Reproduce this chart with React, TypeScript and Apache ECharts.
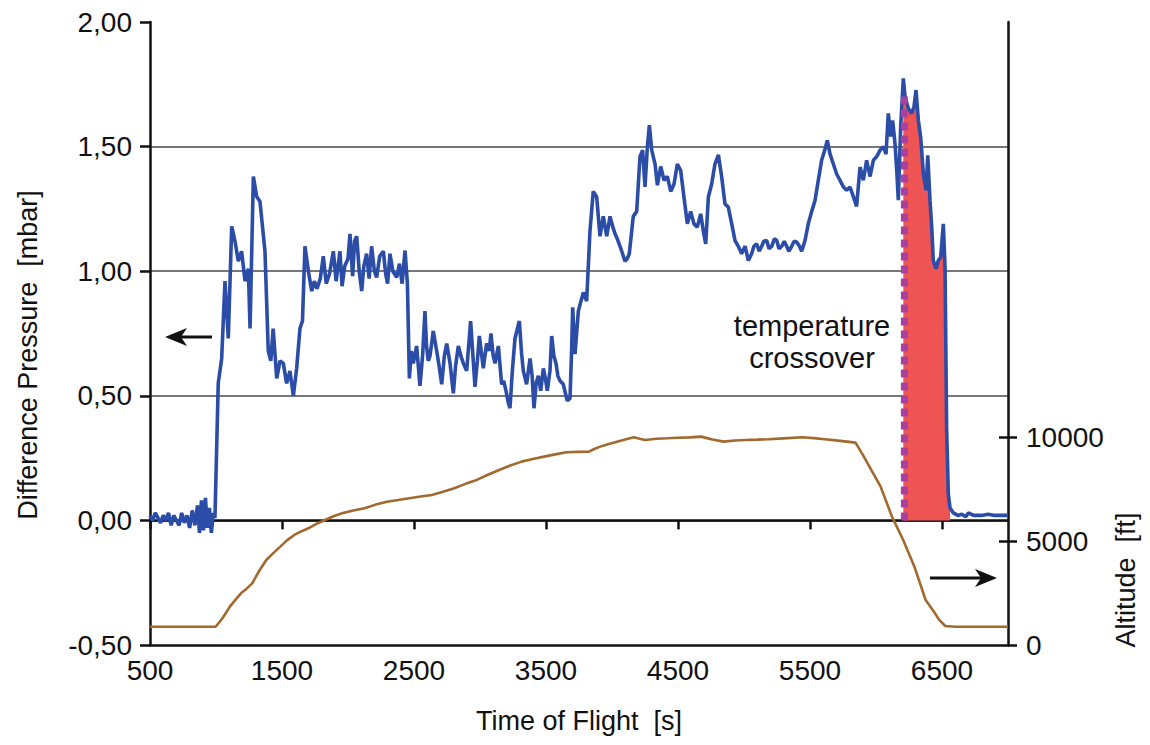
import React, { useEffect, useRef } from "react";
import * as echarts from "echarts";

// Difference pressure [mbar] against time of flight [s]
const flightTime = [
  500, 520, 540, 560, 580, 600, 620, 640, 660, 680, 700, 720, 740, 760, 780, 800, 820, 840, 860, 875,
  890, 905, 920, 935, 950, 965, 980, 992, 1017, 1043, 1068, 1093, 1119, 1144, 1169, 1194, 1220, 1245,
  1258, 1283, 1308, 1333, 1371, 1396, 1415, 1433, 1460, 1485, 1510, 1535, 1560, 1586, 1611, 1636, 1655,
  1674, 1700, 1725, 1745, 1765, 1790, 1813, 1835, 1860, 1889, 1910, 1939, 1955, 1975, 2000, 2015, 2035,
  2050, 2066, 2085, 2104, 2120, 2141, 2160, 2179, 2200, 2217, 2240, 2268, 2285, 2300, 2318, 2340, 2369,
  2390, 2410, 2432, 2450, 2465, 2480, 2495, 2520, 2545, 2565, 2583, 2595, 2608, 2621, 2646, 2672, 2690,
  2710, 2730, 2748, 2773, 2798, 2815, 2836, 2855, 2874, 2899, 2929, 2962, 2980, 2995, 3025, 3050, 3070,
  3083, 3100, 3114, 3139, 3164, 3180, 3197, 3215, 3227, 3245, 3265, 3298, 3315, 3328, 3353, 3379, 3395,
  3409, 3425, 3442, 3460, 3480, 3495, 3510, 3530, 3543, 3560, 3576, 3590, 3606, 3631, 3661, 3682, 3695,
  3702, 3720, 3745, 3765, 3783, 3808, 3833, 3858, 3884, 3909, 3934, 3960, 3985, 4005, 4023, 4040, 4061,
  4080, 4098, 4115, 4131, 4161, 4187, 4212, 4232, 4250, 4268, 4283, 4301, 4326, 4344, 4369, 4394, 4419,
  4445, 4470, 4495, 4520, 4545, 4571, 4596, 4621, 4646, 4672, 4692, 4710, 4730, 4755, 4780, 4806, 4831,
  4856, 4881, 4907, 4932, 4957, 4982, 5008, 5033, 5058, 5075, 5096, 5115, 5134, 5150, 5172, 5190, 5210,
  5230, 5248, 5265, 5286, 5305, 5323, 5340, 5361, 5380, 5399, 5420, 5437, 5462, 5487, 5513, 5538, 5563,
  5588, 5614, 5631, 5652, 5677, 5702, 5727, 5753, 5778, 5803, 5828, 5853, 5879, 5904, 5929, 5955, 5980,
  6005, 6030, 6056, 6076, 6093, 6111, 6126, 6144, 6157, 6169, 6187, 6207, 6220, 6245, 6270, 6288, 6303,
  6321, 6338, 6359, 6379, 6392, 6409, 6422, 6434, 6455, 6472, 6490, 6510, 6523, 6535, 6548, 6561, 6586,
  6620, 6650, 6680, 6700, 6740, 6800, 6850, 6900, 6950, 7000,
];
const diffPressure = [
  0.02, 0.0, 0.03, 0.01, -0.01, 0.02, 0.0, 0.03, -0.02, 0.02, 0.0, -0.02, 0.03, -0.01, 0.02, -0.03, 0.04, -0.02, 0.06, -0.05,
  0.08, -0.04, 0.09, -0.03, 0.05, -0.05, 0.03, 0.01, 0.55, 0.65, 0.96, 0.73, 1.18, 1.12, 1.04, 1.08, 0.96, 1.01,
  0.77, 1.38, 1.3, 1.28, 1.08, 0.68, 0.64, 0.77, 0.57, 0.64, 0.63, 0.55, 0.6, 0.5, 0.61, 0.77, 0.8,
  1.1, 1.0, 0.92, 0.96, 0.93, 0.97, 1.06, 0.95, 0.99, 1.08, 0.96, 1.08, 0.94, 1.02, 1.05, 1.15, 0.98,
  1.12, 1.14, 1.0, 0.92, 1.02, 1.07, 0.97, 1.1, 1.0, 0.975, 1.06, 1.08, 0.99, 0.95, 1.07, 1.0, 0.975,
  1.03, 0.95, 1.083, 0.95, 0.57, 0.68, 0.63, 0.7, 0.54, 0.66, 0.84, 0.7, 0.64, 0.66, 0.76, 0.68, 0.62,
  0.546, 0.66, 0.71, 0.63, 0.51, 0.62, 0.7, 0.66, 0.63, 0.6, 0.8, 0.536, 0.64, 0.74, 0.61, 0.71, 0.68,
  0.75, 0.66, 0.63, 0.7, 0.546, 0.56, 0.52, 0.47, 0.45, 0.6, 0.73, 0.8, 0.67, 0.6, 0.546, 0.65, 0.58,
  0.45, 0.55, 0.58, 0.52, 0.61, 0.57, 0.52, 0.6, 0.74, 0.66, 0.63, 0.58, 0.56, 0.546, 0.48, 0.49, 0.7,
  0.855, 0.667, 0.84, 0.88, 0.915, 0.88, 1.16, 1.32, 1.298, 1.14, 1.22, 1.14, 1.22, 1.18, 1.15, 1.13, 1.1,
  1.07, 1.04, 1.05, 1.07, 1.22, 1.24, 1.46, 1.486, 1.338, 1.5, 1.586, 1.486, 1.43, 1.345, 1.42, 1.365, 1.38,
  1.32, 1.35, 1.43, 1.405, 1.298, 1.19, 1.24, 1.19, 1.177, 1.23, 1.16, 1.11, 1.298, 1.35, 1.43, 1.467, 1.378,
  1.27, 1.257, 1.19, 1.123, 1.1, 1.07, 1.1, 1.043, 1.07, 1.1, 1.11, 1.08, 1.1, 1.12, 1.123, 1.09, 1.1,
  1.13, 1.123, 1.09, 1.1, 1.12, 1.1, 1.08, 1.1, 1.12, 1.117, 1.1, 1.08, 1.123, 1.19, 1.24, 1.284, 1.365,
  1.445, 1.49, 1.525, 1.47, 1.43, 1.39, 1.365, 1.338, 1.325, 1.338, 1.3, 1.26, 1.418, 1.365, 1.445, 1.38, 1.445,
  1.46, 1.485, 1.5, 1.47, 1.633, 1.54, 1.605, 1.512, 1.405, 1.285, 1.58, 1.774, 1.7, 1.653, 1.633, 1.66, 1.727,
  1.605, 1.54, 1.39, 1.325, 1.465, 1.285, 1.177, 1.043, 1.01, 1.043, 1.056, 1.19, 1.016, 0.372, 0.104, 0.05, 0.03,
  0.02, 0.025, 0.015, 0.03, 0.02, 0.02, 0.025, 0.02, 0.02, 0.02,
];

// Flight altitude [ft]
const altTime = [
  500, 998, 1050, 1105, 1150, 1189, 1230, 1274, 1330, 1381, 1430, 1487, 1540, 1593, 1650, 1700, 1760,
  1827, 1890, 1955, 2040, 2125, 2210, 2295, 2380, 2465, 2550, 2635, 2720, 2805, 2890, 2975, 3060, 3145,
  3230, 3315, 3400, 3485, 3570, 3655, 3740, 3825, 3870, 3911, 3975, 4038, 4100, 4165, 4210, 4250, 4335,
  4420, 4500, 4590, 4676, 4760, 4846, 4930, 5015, 5100, 5186, 5300, 5441, 5530, 5611, 5730, 5845, 5908,
  6035, 6121, 6206, 6291, 6376, 6439, 6480, 6525, 6600, 7000,
];
const altitudeFt = [
  880, 880, 1300, 1845, 2200, 2490, 2700, 2970, 3600, 4094, 4400, 4735, 5050, 5299, 5480, 5620, 5830,
  6021, 6200, 6343, 6480, 6584, 6760, 6902, 6980, 7066, 7150, 7226, 7380, 7548, 7760, 7948, 8200, 8430,
  8640, 8830, 8960, 9071, 9180, 9283, 9300, 9312, 9450, 9553, 9680, 9793, 9900, 10005, 9930, 9875, 9930,
  9955, 9980, 10000, 10034, 9900, 9793, 9850, 9875, 9890, 9907, 9950, 10005, 9960, 9907, 9830, 9745, 9071,
  7626, 6180, 5058, 3772, 2168, 1604, 1200, 915, 880, 880,
];

// Temperature crossover and the shaded region after it
const crossoverTime = 6215;
const crossoverTop = 1.72;
const shadeEnd = 6561;

const xTickValues = [500, 1500, 2500, 3500, 4500, 5500, 6500];
const altTickValues = [0, 5000, 10000];
const altInnerTicks = [5000, 10000];

const FONT = "'Liberation Sans', Arial, Helvetica, sans-serif";
const INK = "#111111";

export default function App() {
  const ref = useRef<HTMLDivElement>(null);

  useEffect(() => {
    if (!ref.current) return;
    const chart = echarts.init(ref.current, undefined, { renderer: "svg" });

    const pressurePairs = flightTime.map((t, i) => [t, diffPressure[i]]);
    const shadePairs = pressurePairs.filter(
      ([t]) => t >= crossoverTime - 10 && t <= shadeEnd
    );
    const altitudePairs = altTime.map((t, i) => [t, altitudeFt[i]]);
    const crossoverPairs = [
      [crossoverTime, 0],
      [crossoverTime, crossoverTop],
    ];

    const axisLine = { show: true, lineStyle: { color: INK, width: 2.5 } };
    const plain = (v: number) => String(v);

    chart.setOption({
      animation: false,
      backgroundColor: "#ffffff",
      textStyle: { fontFamily: FONT },
      grid: {
        left: 150,
        right: 142,
        top: 22,
        bottom: 100,
        containLabel: false,
        outerBoundsMode: "none",
      },
      xAxis: [
        {
          type: "value",
          min: 500,
          max: 7000,
          position: "bottom",
          axisLine,
          axisTick: {
            show: true,
            customValues: xTickValues,
            length: 9,
            lineStyle: { color: INK, width: 2.5 },
          },
          axisLabel: {
            customValues: xTickValues,
            formatter: plain,
            fontSize: 28,
            color: INK,
            margin: 11,
            fontFamily: FONT,
          },
          splitLine: { show: false },
          name: "Time of Flight  [s]",
          nameLocation: "middle",
          nameGap: 62,
          nameTextStyle: { fontSize: 27, color: INK, fontFamily: FONT },
        },
        {
          type: "value",
          min: 500,
          max: 7000,
          position: "top",
          axisLine,
          axisTick: { show: false },
          axisLabel: { show: false },
          splitLine: { show: false },
        },
      ],
      yAxis: [
        {
          type: "value",
          min: -0.5,
          max: 2,
          interval: 0.5,
          position: "left",
          axisLine,
          axisTick: { show: true, length: 10, lineStyle: { color: INK, width: 2.5 } },
          axisLabel: {
            fontSize: 28,
            color: INK,
            margin: 18,
            fontFamily: FONT,
            formatter: (v: number) => v.toFixed(2).replace(".", ","),
          },
          splitLine: {
            show: true,
            showMinLine: false,
            showMaxLine: false,
            lineStyle: { color: "#4a4a4a", width: 1.5 },
          },
        },
        {
          type: "value",
          min: 0,
          max: 30000,
          position: "right",
          axisLine,
          axisTick: {
            show: true,
            customValues: altTickValues,
            length: 9,
            lineStyle: { color: INK, width: 2.5 },
          },
          axisLabel: {
            customValues: altTickValues,
            formatter: plain,
            fontSize: 28,
            color: INK,
            margin: 18,
            fontFamily: FONT,
          },
          splitLine: { show: false },
        },
        {
          type: "value",
          min: 0,
          max: 30000,
          position: "right",
          axisLine: { show: false },
          axisTick: {
            show: true,
            inside: true,
            customValues: altInnerTicks,
            length: 9,
            lineStyle: { color: INK, width: 2.5 },
          },
          axisLabel: { show: false },
          splitLine: { show: false },
        },
      ],
      series: [
        {
          name: "shade",
          type: "line",
          data: shadePairs,
          showSymbol: false,
          symbol: "none",
          lineStyle: { width: 0 },
          areaStyle: { color: "#EF5454", opacity: 1 },
          z: 2,
          silent: true,
        },
        {
          name: "Difference Pressure",
          type: "line",
          data: pressurePairs,
          showSymbol: false,
          symbol: "none",
          lineStyle: { color: "#2B4DA8", width: 3.6 },
          z: 3,
        },
        {
          name: "temperature crossover",
          type: "line",
          data: crossoverPairs,
          showSymbol: false,
          symbol: "none",
          lineStyle: { color: "#A9409F", width: 7, type: [8, 5], cap: "butt" },
          z: 5,
          silent: true,
        },
        {
          name: "Altitude",
          type: "line",
          yAxisIndex: 1,
          data: altitudePairs,
          showSymbol: false,
          symbol: "none",
          lineStyle: { color: "#A2692E", width: 2.6 },
          z: 3,
        },
      ],
      graphic: [
        {
          type: "text",
          x: 28,
          y: 355,
          rotation: Math.PI / 2,
          style: {
            text: "Difference Pressure  [mbar]",
            fontSize: 27,
            fontFamily: FONT,
            fill: INK,
            align: "center",
            verticalAlign: "middle",
          },
        },
        {
          type: "text",
          x: 1126,
          y: 580,
          rotation: Math.PI / 2,
          style: {
            text: "Altitude  [ft]",
            fontSize: 27,
            fontFamily: FONT,
            fill: INK,
            align: "center",
            verticalAlign: "middle",
          },
        },
        {
          type: "text",
          x: 812,
          y: 342,
          style: {
            text: "temperature\ncrossover",
            fontSize: 29,
            lineHeight: 32,
            fontFamily: FONT,
            fill: INK,
            align: "center",
            verticalAlign: "middle",
          },
        },
        // arrow pointing to the left axis
        {
          type: "line",
          shape: { x1: 212, y1: 337, x2: 178, y2: 337 },
          style: { stroke: INK, lineWidth: 3 },
        },
        {
          type: "polygon",
          shape: { points: [[165, 337], [187, 328], [181, 337], [187, 346]] },
          style: { fill: INK },
        },
        // arrow pointing to the right axis
        {
          type: "line",
          shape: { x1: 930, y1: 578, x2: 985, y2: 578 },
          style: { stroke: INK, lineWidth: 3 },
        },
        {
          type: "polygon",
          shape: { points: [[997, 578], [975, 569], [981, 578], [975, 587]] },
          style: { fill: INK },
        },
      ],
    });

    return () => chart.dispose();
  }, []);

  return (
    <div
      ref={ref}
      style={{ position: "absolute", left: 0, top: 0, width: 1150, height: 745 }}
    />
  );
}
